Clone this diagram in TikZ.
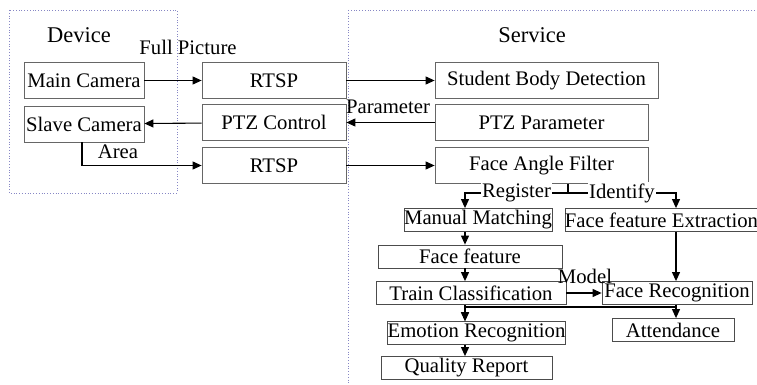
\documentclass[tikz,border=0pt]{standalone}
\usepackage{fontspec}
\setmainfont{Liberation Serif}
\usetikzlibrary{arrows.meta}
\begin{document}
\begin{tikzpicture}[x=1pt, y=-1pt,
    block/.style={rectangle, draw=black!60, line width=0.8pt, inner sep=0pt, minimum height=36, font=\fontsize{20.7}{23}\selectfont},
    smallblock/.style={rectangle, draw=black!70, line width=0.8pt, inner sep=0pt, minimum height=23, font=\fontsize{20.7}{23}\selectfont},
    group/.style={draw=blue!35!gray!70, dotted, line width=0.8pt},
    lbl/.style={inner sep=1pt, font=\fontsize{20.7}{23}\selectfont},
    title/.style={inner sep=1pt, font=\fontsize{22.5}{26}\selectfont},
    arrow/.style={-{Triangle[length=9pt,width=8pt]}, line width=1.1pt}
]
\clip (0,0) rectangle (757,385);
\fill[white] (0,0) rectangle (757,385);
% groups
\draw[group] (9,10) rectangle (177,193);
\draw[group] (348,10) rectangle (790,400);
\node[title] (device) at (79,35) {Device};
\node[title] (service) at (532,35) {Service};

% device side
\node[block, minimum width=120] (main) at (84,80.5) {Main Camera};
\node[block, minimum width=120] (slave) at (84,124) {Slave Camera};
\node[block, minimum width=144] (rtspa) at (274,80.5) {RTSP};
\node[block, minimum width=144] (ptz) at (274,122.5) {PTZ Control};
\node[block, minimum width=144] (rtspb) at (274,165.5) {RTSP};

% service side
\node[block, minimum width=223] (body) at (546.5,80.5) {Student Body Detection};
\node[block, minimum width=213] (param) at (541.5,122.5) {PTZ Parameter};
\node[block, minimum width=213] (angle) at (541.5,165.5) {Face Angle Filter};
\node[smallblock, minimum width=148] (match) at (478,220) {Manual Matching};
\node[smallblock, minimum width=189] (extract) at (661.5,220) {Face feature Extraction};
\node[smallblock, minimum width=184] (feature) at (470,256.5) {Face feature};
\node[smallblock, minimum width=190] (train) at (471,293) {Train Classification};
\node[smallblock, minimum width=150] (recog) at (677,293) {Face Recognition};
\node[smallblock, minimum width=177] (emotion) at (476.5,333) {Emotion Recognition};
\node[smallblock, minimum width=122] (attend) at (673,330) {Attendance};
\node[smallblock, minimum width=171] (report) at (466.5,368) {Quality Report};

% labels
\node[lbl] (full) at (188,47) {Full Picture};
\node[lbl] (parlbl) at (388,107) {Parameter};
\node[lbl] (area) at (118,152) {Area};
\node[lbl] (model) at (585,276) {Model};

\coordinate (split) at (568,193);
\coordinate (colA) at (465,0);
\coordinate (colB) at (676,0);
\coordinate (join) at (0,307);

\draw[arrow] (main) -- (rtspa);
\draw[arrow] (rtspa) -- (body);
\draw[arrow] (param) -- (ptz);
\draw[arrow] (ptz) -- (slave);
\draw[arrow] (slave.south -| 82,0) |- (rtspb);
\draw[arrow] (rtspb) -- (angle);
\draw[line width=1.1pt] (angle.south -| split) -- (split);
\draw[arrow] (split) -| node[lbl, pos=0.25, fill=white] {Register} (match.north -| colA);
\draw[arrow] (split) -| node[lbl, pos=0.25, fill=white] {Identify} (extract.north -| colB);
\draw[arrow] (match.south -| colA) -- (feature.north -| colA);
\draw[arrow] (feature.south -| colA) -- (train.north -| colA);
\draw[arrow] (train) -- (recog);
\draw[arrow] (extract.south -| colB) -- (recog.north -| colB);
\draw[arrow] (recog.south -| colB) -- (attend.north -| colB);
\draw[arrow] (train.south -| colA) -- (emotion.north -| colA);
\draw[arrow] (recog.south -| colB) |- (join -| colA) -- (emotion.north -| colA);
\draw[arrow] (emotion.south -| colA) -- (report.north -| colA);
\end{tikzpicture}
\end{document}
